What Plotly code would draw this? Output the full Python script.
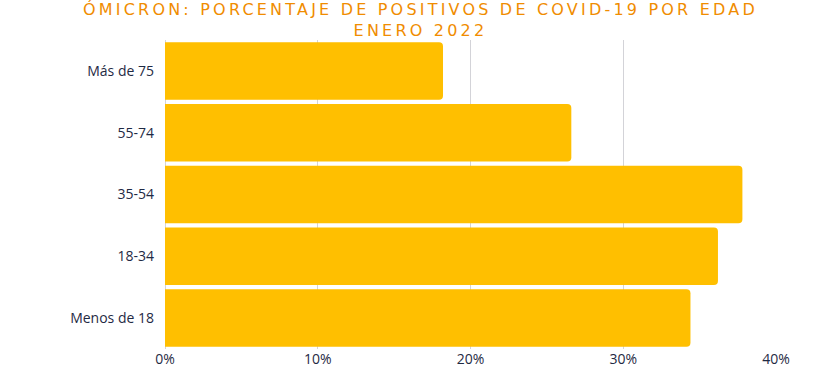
import plotly.graph_objects as go

categories = ["Menos de 18", "18-34", "35-54", "55-74", "Más de 75"]
values = [34.4, 36.2, 37.8, 26.6, 18.2]
tick_vals = [0, 10, 20, 30, 40]
tick_text = ["0%", "10%", "20%", "30%", "40%"]
title_lines = ["ÓMICRON: PORCENTAJE DE POSITIVOS DE COVID-19 POR EDAD", "ENERO 2022"]

W, H = 840, 378
ML, MR, MT, MB = 165, 64, 40, 29

fig = go.Figure(go.Bar(
    x=values, y=categories, orientation="h",
    marker=dict(color="#FFBF00", line=dict(width=0)),
    hoverinfo="skip",
))
fig.update_layout(
    width=W, height=H,
    margin=dict(l=ML, r=MR, t=MT, b=MB, autoexpand=False),
    paper_bgcolor="white", plot_bgcolor="white",
    bargap=0.07, barcornerradius=4,
    showlegend=False,
    font=dict(family="Open Sans", size=14, color="#1F2A44"),
)
fig.add_annotation(
    text="<br>".join('<span style="letter-spacing:3.2px">' + t + "</span>" for t in title_lines),
    xref="paper", yref="paper", x=(420 - ML) / (W - ML - MR), y=1,
    xanchor="center", yanchor="bottom", yshift=-2,
    showarrow=False, align="center",
    font=dict(family="DejaVu Sans", size=16, color="#F08C00"),
)
fig.update_xaxes(
    range=[0, 40], tickvals=tick_vals, ticktext=tick_text,
    showgrid=True, gridcolor="#D3D3D8", gridwidth=1,
    zeroline=True, zerolinecolor="#D3D3D8", zerolinewidth=1,
    showline=False, ticks="", automargin=False,
    tickfont=dict(size=14, color="#1F2A44"),
)
fig.update_yaxes(
    categoryorder="array", categoryarray=categories,
    showgrid=False, zeroline=False, showline=False, ticks="",
    ticklabelstandoff=10, automargin=False,
    tickfont=dict(size=14, color="#1F2A44"),
)
fig.write_html("out.html", config={"displayModeBar": False},
               post_script="document.body.style.margin='0';")
